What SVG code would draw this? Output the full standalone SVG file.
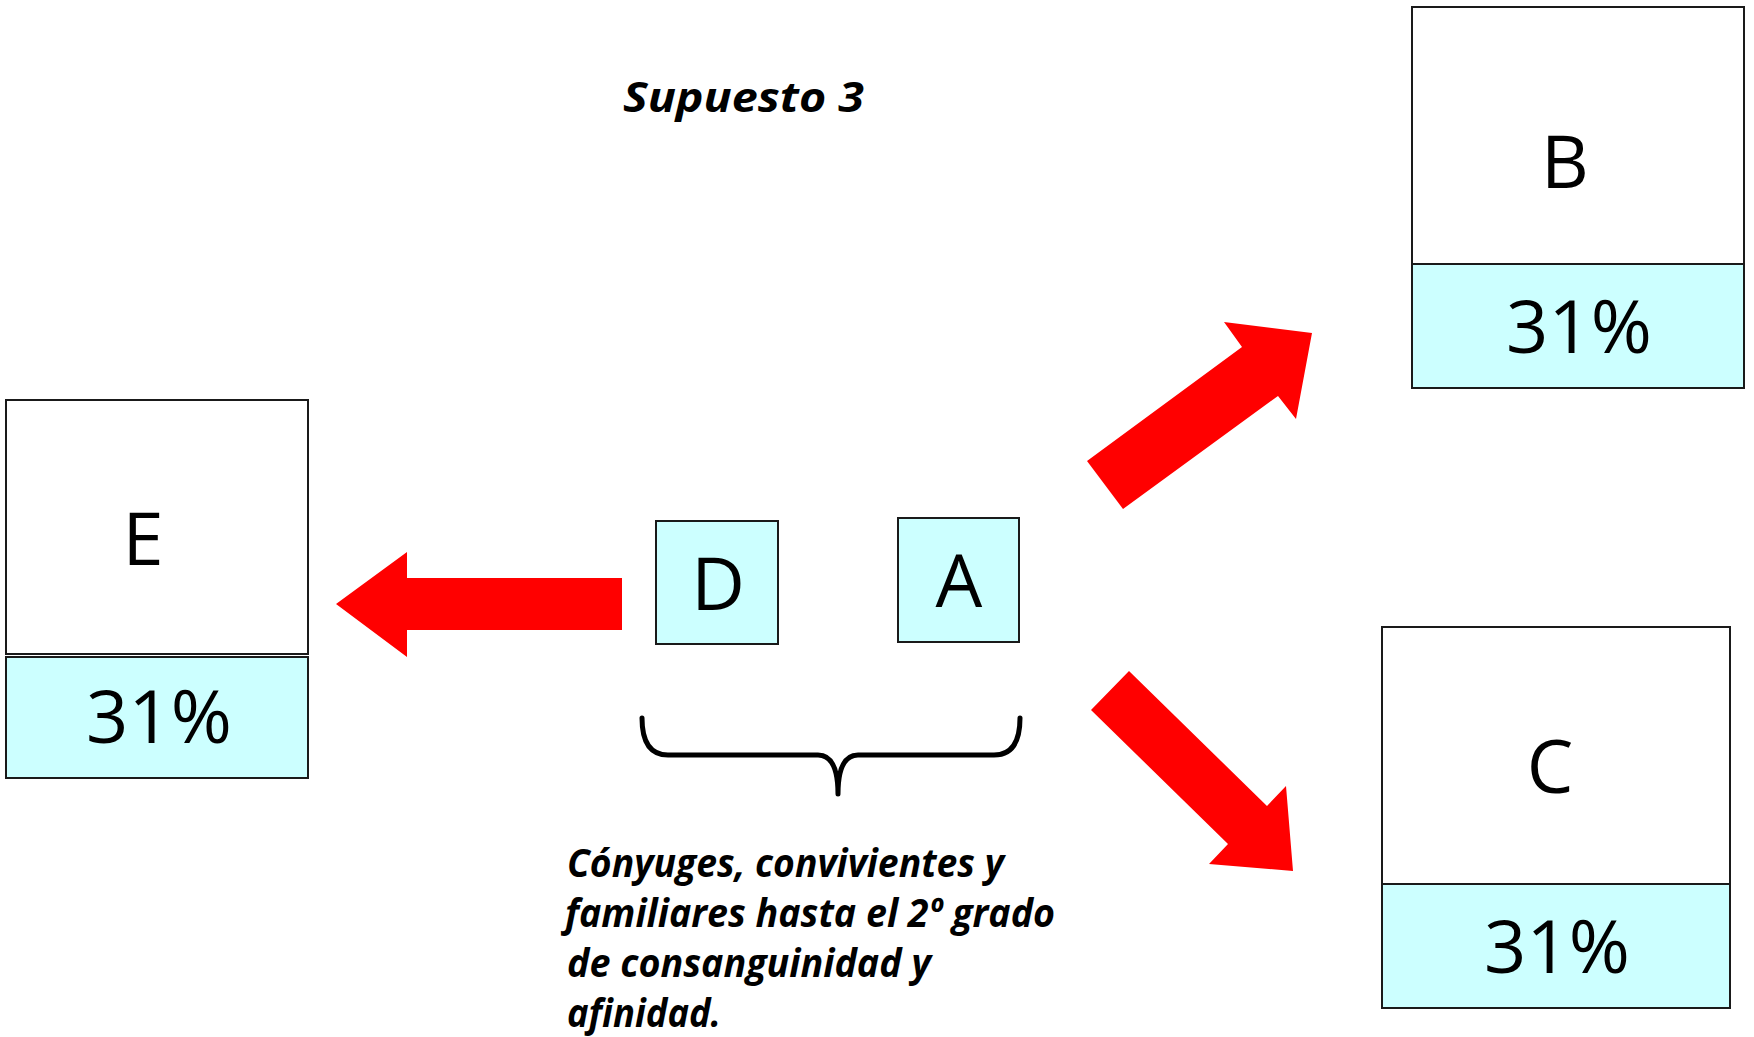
<svg xmlns="http://www.w3.org/2000/svg" width="1754" height="1037" viewBox="0 0 1754 1037">
<style>
.box{fill:#FFFFFF;stroke:#1a1a1a;stroke-width:2}
.pct{fill:#CCFFFF;stroke:#1a1a1a;stroke-width:2}
.big{font-family:"Open Sans","Liberation Sans",sans-serif;font-size:74px;fill:#000;text-anchor:middle}
.note{font-family:"Open Sans","Liberation Sans",sans-serif;font-weight:bold;font-style:italic;fill:#000}
.arrow{fill:#FF0000;stroke:none}
</style>
<rect width="1754" height="1037" fill="#FFFFFF"/>
<text class="note" x="623" y="112" font-size="42" textLength="241" lengthAdjust="spacingAndGlyphs">Supuesto 3</text>
<g id="node-E">
<rect class="box" x="6" y="400" width="302" height="254"/>
<rect class="pct" x="6" y="657" width="302" height="121"/>
<text class="big" x="143" y="565">E</text>
<text class="big" x="159" y="743">31%</text>
</g>
<g id="node-B">
<rect class="box" x="1412" y="7" width="332" height="257"/>
<rect class="pct" x="1412" y="264" width="332" height="124"/>
<text class="big" x="1565" y="188">B</text>
<text class="big" x="1579" y="353">31%</text>
</g>
<g id="node-C">
<rect class="box" x="1382" y="627" width="348" height="257"/>
<rect class="pct" x="1382" y="884" width="348" height="124"/>
<text class="big" x="1550" y="793">C</text>
<text class="big" x="1557" y="973">31%</text>
</g>
<g id="node-D">
<rect class="pct" x="656" y="521" width="122" height="123"/>
<text class="big" x="718" y="610">D</text>
</g>
<g id="node-A">
<rect class="pct" x="898" y="518" width="121" height="124"/>
<text class="big" x="959" y="607">A</text>
</g>
<g id="connectors">
<polygon class="arrow" points="622,578 407,578 407,552 336,604 407,657 407,630 622,630"/>
<polygon class="arrow" points="1087,461 1123,509 1278,396 1296,419 1312,333 1224,322 1242,347"/>
<polygon class="arrow" points="1091,710 1129,671 1267,806 1286,786 1293,871 1209,864 1228,844"/>
</g>
<g id="brace">
<path d="M642,718 C642,742 650,755 668,755 L818,755 C832,755 838,770 838,794 C838,770 844,755 858,755 L994,755 C1012,755 1020,742 1020,718" fill="none" stroke="#000" stroke-width="5" stroke-linecap="round" stroke-linejoin="round"/>
</g>
<g id="caption">
<text class="note" x="567" y="877" font-size="40" textLength="437" lengthAdjust="spacingAndGlyphs">Cónyuges, convivientes y</text>
<text class="note" x="565" y="927" font-size="40" textLength="490" lengthAdjust="spacingAndGlyphs">familiares hasta el 2º grado</text>
<text class="note" x="567" y="977" font-size="40" textLength="364" lengthAdjust="spacingAndGlyphs">de consanguinidad y</text>
<text class="note" x="567" y="1027" font-size="40" textLength="154" lengthAdjust="spacingAndGlyphs">afinidad.</text>
</g>
</svg>
